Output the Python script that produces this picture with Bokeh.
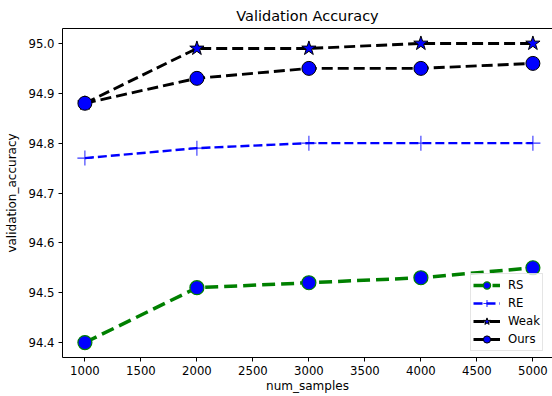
from bokeh.plotting import figure
from bokeh.models import (FixedTicker, PrintfTickFormatter, LinearAxis, Range1d,
                          Legend, LegendItem)
from bokeh.embed import file_html
from bokeh.resources import INLINE

# ---- data ----
num_samples = [1000, 2000, 3000, 4000, 5000]
rs_acc = [94.40, 94.51, 94.52, 94.53, 94.55]
re_acc = [94.77, 94.79, 94.80, 94.80, 94.80]
weak_acc = [94.88, 94.99, 94.99, 95.00, 95.00]
ours_acc = [94.88, 94.93, 94.95, 94.95, 94.96]
x_ticks = [1000, 1500, 2000, 2500, 3000, 3500, 4000, 4500, 5000]
y_ticks = [94.4, 94.5, 94.6, 94.7, 94.8, 94.9, 95.0]

FONT = "DejaVu Sans"

p = figure(width=552, height=396, output_backend="svg", toolbar_location=None,
           x_range=Range1d(800, 5175), y_range=Range1d(94.37, 95.03),
           min_border=0, min_border_left=62, min_border_right=0, min_border_top=26,
           min_border_bottom=39)

p.title.text = "Validation Accuracy"
p.title.align = "center"
p.title.text_font = FONT
p.title.text_font_size = "14.5px"
p.title.text_font_style = "normal"
p.title.text_color = "#000000"
p.title.standoff = 10
p.title.offset = 0

p.xgrid.visible = False
p.ygrid.visible = False
p.outline_line_color = None
p.background_fill_color = "white"
p.border_fill_color = "white"

for ax in (p.xaxis[0], p.yaxis[0]):
    ax.axis_line_color = "black"
    ax.axis_line_width = 1
    ax.major_tick_line_color = "black"
    ax.major_tick_out = 4
    ax.major_tick_in = 0
    ax.minor_tick_line_color = None
    ax.major_label_text_font = FONT
    ax.major_label_text_font_size = "11.7px"
    ax.major_label_text_color = "#000000"
    ax.axis_label_text_font = FONT
    ax.axis_label_text_font_size = "12px"
    ax.axis_label_text_font_style = "normal"
    ax.axis_label_text_color = "#000000"
    ax.major_label_standoff = 4

p.xaxis[0].ticker = FixedTicker(ticks=x_ticks)
p.yaxis[0].ticker = FixedTicker(ticks=y_ticks)
p.yaxis[0].formatter = PrintfTickFormatter(format="%.1f")
p.xaxis[0].axis_label = "num_samples"
p.yaxis[0].axis_label = "validation_accuracy"
p.xaxis[0].major_label_standoff = 4
p.xaxis[0].axis_label_standoff = 1
p.yaxis[0].axis_label_standoff = 6

# top spine
top = LinearAxis(ticker=FixedTicker(ticks=[]), major_label_text_font_size="0px",
                 major_tick_out=0, major_tick_in=0, minor_tick_line_color=None,
                 major_label_standoff=0, axis_label_standoff=0,
                 axis_line_color="black", axis_line_width=1)
p.add_layout(top, "above")

# ---- series ----
l_rs = p.line(num_samples, rs_acc, line_color="#008000", line_width=3.5, line_dash="13 6")
m_rs = p.scatter(num_samples, rs_acc, marker="circle", size=14, fill_color="#0000ff",
                 line_color="#008000", line_width=1.2)

l_re = p.line(num_samples, re_acc, line_color="#0000ff", line_width=2.4, line_dash="9 4")
m_re = p.scatter(num_samples, re_acc, marker="cross", size=15, fill_color=None,
                 line_color="#0000ff", line_width=1.1, line_alpha=0.8)

l_wk = p.line(num_samples, weak_acc, line_color="black", line_width=2.9, line_dash="11 5")
m_wk = p.scatter(num_samples, weak_acc, marker="star", size=15, fill_color="#0000ff",
                 line_color="black", line_width=1)

l_ou = p.line(num_samples, ours_acc, line_color="black", line_width=2.9, line_dash="11 5")
m_ou = p.scatter(num_samples, ours_acc, marker="circle", size=14, fill_color="#0000ff",
                 line_color="black", line_width=1)

legend = Legend(items=[
    LegendItem(label="RS", renderers=[l_rs, m_rs]),
    LegendItem(label="RE", renderers=[l_re, m_re]),
    LegendItem(label="Weak", renderers=[l_wk, m_wk]),
    LegendItem(label="Ours", renderers=[l_ou, m_ou]),
], location=(408, 6))
legend.margin = 0
legend.padding = 2
legend.spacing = 0
legend.glyph_width = 27
legend.glyph_height = 18
legend.label_height = 18
legend.label_standoff = 8
legend.label_text_font = FONT
legend.label_text_font_size = "11.7px"
legend.label_text_color = "#000000"
legend.border_line_color = "#cccccc"
legend.border_line_width = 1
legend.background_fill_color = "white"
legend.background_fill_alpha = 0.8
p.add_layout(legend, "center")

open("out.html", "w").write(file_html(p, INLINE))
